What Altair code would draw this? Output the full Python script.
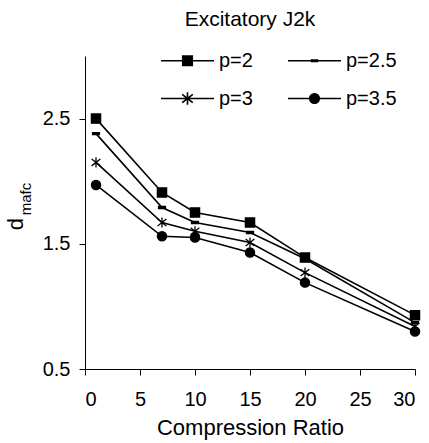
import altair as alt
import pandas as pd

# Compression ratios tested
ratios = [1, 7, 10, 15, 20, 30]

# d_mafc for each exponent p
series_names = ["p=2", "p=2.5", "p=3", "p=3.5"]
d_p2 = [2.50, 1.91, 1.75, 1.67, 1.39, 0.93]
d_p25 = [2.38, 1.79, 1.67, 1.59, 1.38, 0.87]
d_p3 = [2.15, 1.67, 1.60, 1.51, 1.27, 0.84]
d_p35 = [1.97, 1.56, 1.55, 1.43, 1.19, 0.80]

x_ticks = [0, 5, 10, 15, 20, 25, 30]
y_ticks = [0.5, 1.5, 2.5]

rows = []
for name, vals in zip(series_names, [d_p2, d_p25, d_p3, d_p35]):
    for r, v in zip(ratios, vals):
        rows.append({"ratio": r, "d": v, "series": name})
df = pd.DataFrame(rows)

FONT = "Liberation Sans"

# marker glyphs, drawn in a [-1, 1] box
marker_paths = [
    "M-1,-1H1V1H-1Z",                                           # square
    "M-0.75,-0.22H0.75V0.22H-0.75Z",                             # dash
    "M0,-1.1V1.1M-0.95,-0.75L0.95,0.75M-0.95,0.75L0.95,-0.75",  # asterisk
    "M1,0A1,1,0,1,1,-1,0A1,1,0,1,1,1,0Z",                       # circle
]

# legend glyphs: a short line with the marker in its middle
legend_paths = [
    "M-1,0H1M-0.18,-0.18H0.18V0.18H-0.18Z",
    "M-1,0H1M-0.11,-0.03H0.11V0.03H-0.11Z",
    "M-1,0H1M0,-0.24V0.24M-0.2,-0.16L0.2,0.16M-0.2,0.16L0.2,-0.16",
    "M-1,0H1M0.18,0A0.18,0.18,0,1,1,-0.18,0A0.18,0.18,0,1,1,0.18,0Z",
]

x_enc = alt.X(
    "ratio:Q",
    scale=alt.Scale(domain=[0, 30], nice=False),
    axis=alt.Axis(values=x_ticks, title="Compression Ratio", grid=False,
                  labelPadding=14, titlePadding=8),
)
y_enc = alt.Y(
    "d:Q",
    scale=alt.Scale(domain=[0.5, 3.0], nice=False),
    axis=alt.Axis(values=y_ticks, title=None, grid=False, format=".1f", labelPadding=9),
)

lines = alt.Chart(df).mark_line(color="black", strokeWidth=1.6).encode(
    x=x_enc, y=y_enc, detail="series:N"
)

points = alt.Chart(df).mark_point(
    filled=False, fill="black", stroke="black", strokeWidth=1.3, opacity=1, size=85
).encode(
    x=x_enc,
    y=y_enc,
    shape=alt.Shape(
        "series:N",
        scale=alt.Scale(domain=series_names, range=marker_paths),
        legend=None,
    ),
)


def legend_props(show_labels):
    return dict(
        title=None,
        orient="none",
        direction="horizontal",
        legendX=75,
        legendY=-23,
        columns=2,
        symbolSize=2809,
        symbolStrokeWidth=1.6,
        symbolStrokeColor="black",
        symbolFillColor="black",
        symbolOpacity=1,
        labelFont=FONT,
        labelFontSize=20,
        labelColor="black",
        labelOpacity=1 if show_labels else 0,
        labelOffset=4,
        columnPadding=31,
        rowPadding=0,
    )


# two legend-only layers (no rows drawn): one strokes the glyphs, one fills them
legend_stroke = alt.Chart(df).transform_filter("false").mark_point(
    filled=False, stroke="black", strokeWidth=1.6, opacity=1
).encode(
    x=x_enc,
    y=y_enc,
    shape=alt.Shape(
        "series:N",
        scale=alt.Scale(domain=series_names, range=legend_paths),
        legend=alt.Legend(**legend_props(True)),
    ),
)

legend_fill = alt.Chart(df).transform_filter("false").mark_point(
    filled=True, fill="black", opacity=1
).encode(
    x=x_enc,
    y=y_enc,
    shape=alt.Shape(
        "series:N",
        scale=alt.Scale(domain=series_names, range=legend_paths),
        legend=alt.Legend(**legend_props(False)),
    ),
)

# y-axis title d_mafc with a subscript
label_df = pd.DataFrame({"t": ["d"]})
y_title_main = alt.Chart(label_df).mark_text(
    text="d", font=FONT, fontSize=22, angle=270, color="black", align="center", baseline="middle"
).encode(x=alt.value(-69), y=alt.value(168))
y_title_sub = alt.Chart(label_df).mark_text(
    text="mafc", font=FONT, fontSize=15, angle=270, color="black", align="center", baseline="middle"
).encode(x=alt.value(-59), y=alt.value(143))

chart = (
    alt.layer(lines, points, legend_stroke, legend_fill, y_title_main, y_title_sub)
    .resolve_scale(shape="independent")
    .properties(
        width=330,
        height=313,
        title=alt.TitleParams(
            "Excitatory J2k", font=FONT, fontSize=21, fontWeight="normal", color="black",
            anchor="middle", offset=3,
        ),
        autosize=alt.AutoSizeParams(type="none"),
        padding={"left": 85, "top": 56, "right": 14, "bottom": 74},
    )
    .configure_view(stroke=None)
    .configure_axis(
        domainColor="black",
        tickColor="black",
        labelColor="black",
        titleColor="black",
        labelFont=FONT,
        titleFont=FONT,
        labelFontSize=20,
        titleFontSize=22,
        titleFontWeight="normal",
        tickSize=6,
        domainWidth=1,
        tickWidth=1,
    )
)

chart.save("out.html", embed_options={"renderer": "svg", "actions": False})
